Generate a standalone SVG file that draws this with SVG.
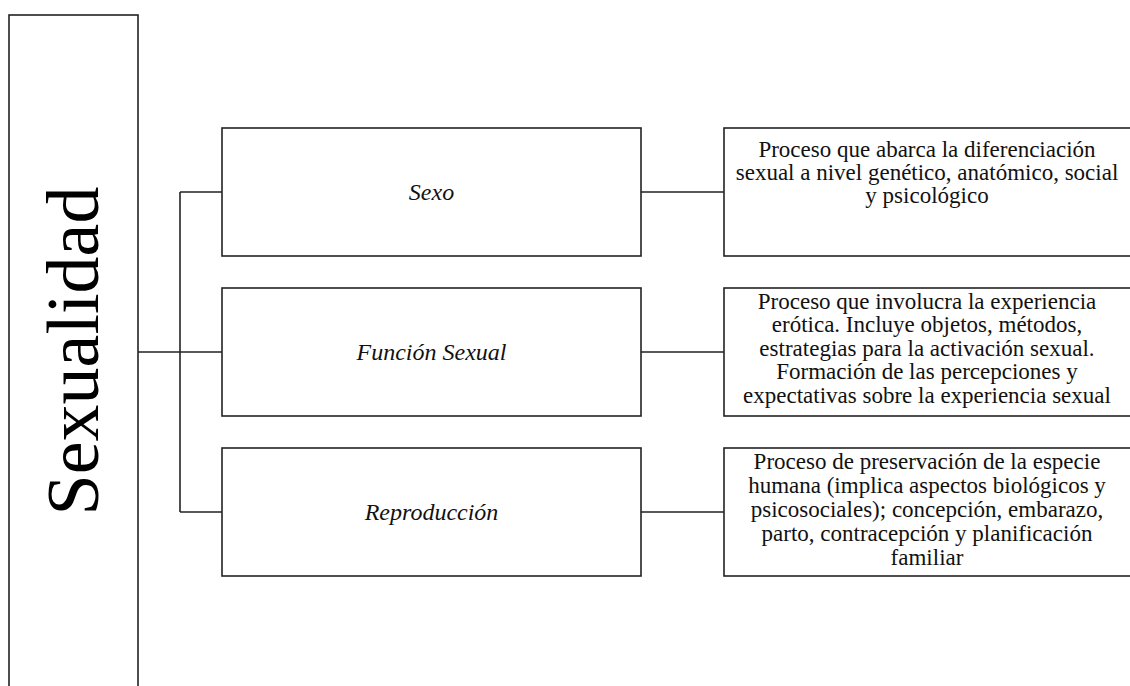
<svg xmlns="http://www.w3.org/2000/svg" width="1130" height="686" viewBox="0 0 1130 686">
<style>
.box{fill:#fff;stroke:#222;stroke-width:1.6}
.conn{fill:none;stroke:#222;stroke-width:1.6}
.lbl{font-family:"Liberation Serif",serif;font-style:italic;font-size:24px;fill:#111;text-anchor:middle}
.desc{font-family:"Liberation Serif",serif;font-size:23px;fill:#111;text-anchor:middle}
.title{font-family:"Liberation Serif",serif;font-size:74px;fill:#000;text-anchor:middle}
</style>
<rect width="1130" height="686" fill="#fff"/>
<g id="connectors">
<path class="conn" d="M138 352 H180"/>
<path class="conn" d="M180 192 V512"/>
<path class="conn" d="M180 192 H222"/>
<path class="conn" d="M180 352 H222"/>
<path class="conn" d="M180 512 H222"/>
<path class="conn" d="M641 192 H724"/>
<path class="conn" d="M641 352 H724"/>
<path class="conn" d="M641 512 H724"/>
</g>
<g id="sexualidad">
<rect class="box" x="9" y="15" width="129" height="690"/>
<text class="title" transform="translate(98 351) rotate(-90)">Sexualidad</text>
</g>
<g id="sexo">
<rect class="box" x="222" y="128" width="419" height="128"/>
<text class="lbl" x="431.5" y="200">Sexo</text>
</g>
<g id="funcion">
<rect class="box" x="222" y="288" width="419" height="128"/>
<text class="lbl" x="431.5" y="360">Función Sexual</text>
</g>
<g id="reproduccion">
<rect class="box" x="222" y="448" width="419" height="128"/>
<text class="lbl" x="431.5" y="520">Reproducción</text>
</g>
<g id="desc-sexo">
<rect class="box" x="724" y="128" width="410" height="128"/>
<text class="desc" x="927" y="157">Proceso que abarca la diferenciación</text>
<text class="desc" x="927" y="180">sexual a nivel genético, anatómico, social</text>
<text class="desc" x="927" y="203">y psicológico</text>
</g>
<g id="desc-funcion">
<rect class="box" x="724" y="288" width="410" height="128"/>
<text class="desc" x="927" y="309">Proceso que involucra la experiencia</text>
<text class="desc" x="927" y="332">erótica. Incluye objetos, métodos,</text>
<text class="desc" x="927" y="356">estrategias para la activación sexual.</text>
<text class="desc" x="927" y="379">Formación de las percepciones y</text>
<text class="desc" x="927" y="403">expectativas sobre la experiencia sexual</text>
</g>
<g id="desc-reproduccion">
<rect class="box" x="724" y="448" width="410" height="128"/>
<text class="desc" x="927" y="469">Proceso de preservación de la especie</text>
<text class="desc" x="927" y="493">humana (implica aspectos biológicos y</text>
<text class="desc" x="927" y="517">psicosociales); concepción, embarazo,</text>
<text class="desc" x="927" y="541">parto, contracepción y planificación</text>
<text class="desc" x="927" y="565">familiar</text>
</g>
</svg>
